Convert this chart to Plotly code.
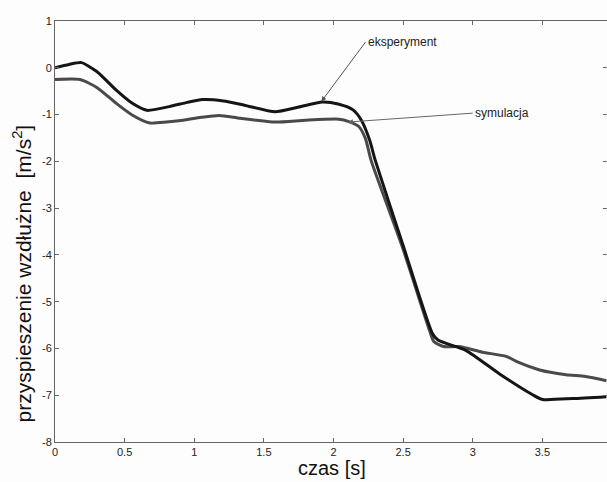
import plotly.graph_objects as go

# experiment (black) curve
t_exp = [0, 0.1, 0.19, 0.3, 0.44, 0.55, 0.66, 0.82, 0.95, 1.06, 1.21, 1.36, 1.58, 1.75,
         1.92, 2.04, 2.14, 2.2, 2.26, 2.3, 2.5, 2.71, 2.75, 2.95, 3.19, 3.43, 3.5, 3.72, 3.96]
v_exp = [0.0, 0.07, 0.11, -0.08, -0.48, -0.75, -0.91, -0.83, -0.74, -0.68, -0.71, -0.8, -0.94, -0.84,
         -0.73, -0.78, -0.9, -1.12, -1.55, -1.98, -3.8, -5.68, -5.82, -6.04, -6.54, -6.99, -7.09, -7.07, -7.03]

# simulation (gray) curve
t_sim = [0, 0.18, 0.3, 0.44, 0.56, 0.68, 0.8, 0.92, 1.05, 1.18, 1.33, 1.58, 1.8, 2.04, 2.11,
         2.18, 2.23, 2.27, 2.5, 2.69, 2.72, 2.79, 2.9, 3.07, 3.24, 3.33, 3.48, 3.67, 3.81, 3.96]
v_sim = [-0.25, -0.25, -0.42, -0.76, -1.02, -1.18, -1.16, -1.12, -1.06, -1.02, -1.08, -1.16, -1.12, -1.1, -1.15,
         -1.25, -1.52, -1.98, -3.88, -5.62, -5.85, -5.96, -5.96, -6.08, -6.17, -6.3, -6.46, -6.56, -6.6, -6.69]

x_ticks = [0, 0.5, 1, 1.5, 2, 2.5, 3, 3.5]
x_tick_labels = ["0", "0.5", "1", "1.5", "2", "2.5", "3", "3.5"]
y_ticks = [1, 0, -1, -2, -3, -4, -5, -6, -7, -8]
y_tick_labels = ["1", "0", "-1", "-2", "-3", "-4", "-5", "-6", "-7", "-8"]

FONT = "Liberation Sans, Arial, sans-serif"

fig = go.Figure()
fig.add_trace(go.Scatter(x=t_sim, y=v_sim, mode="lines",
                         line=dict(color="#4a4a4a", width=3, shape="spline", smoothing=0.6),
                         showlegend=False))
fig.add_trace(go.Scatter(x=t_exp, y=v_exp, mode="lines",
                         line=dict(color="#151515", width=3, shape="spline", smoothing=0.6),
                         showlegend=False))

axis_common = dict(showline=True, linecolor="#666", linewidth=1, mirror="ticks",
                   ticks="inside", ticklen=4, tickcolor="#666", showgrid=False, zeroline=False,
                   tickfont=dict(family=FONT, size=11, color="#222"))

fig.update_layout(
    width=607, height=482,
    margin=dict(l=55, r=0, t=21, b=40),
    paper_bgcolor="#fdfdfd", plot_bgcolor="#fdfdfd",
    xaxis=dict(range=[0, 3.964], tickvals=x_ticks, ticktext=x_tick_labels, **axis_common),
    yaxis=dict(range=[-8, 1], tickvals=y_ticks, ticktext=y_tick_labels, **axis_common),
    annotations=[
        dict(text="czas [s]", xref="paper", yref="paper", x=0.502, y=-0.062,
             xanchor="center", yanchor="middle", showarrow=False,
             font=dict(family=FONT, size=20, color="#111")),
        dict(text="przyspieszenie wzdłużne  [m/s<sup>2</sup>]", xref="paper", yref="paper",
             x=-0.06, y=0.4, textangle=-90, xanchor="center", yanchor="middle",
             showarrow=False, font=dict(family=FONT, size=21, color="#111")),
        dict(text="eksperyment", xref="x", yref="y", x=1.913, y=-0.72,
             axref="x", ayref="y", ax=2.23, ay=0.55, xanchor="left", yanchor="middle",
             showarrow=True, arrowhead=2, arrowsize=1, arrowwidth=1, arrowcolor="#555",
             font=dict(family=FONT, size=12, color="#222")),
        dict(text="symulacja", xref="x", yref="y", x=2.104, y=-1.16,
             axref="x", ayref="y", ax=3.0, ay=-0.97, xanchor="left", yanchor="middle",
             showarrow=True, arrowhead=2, arrowsize=1, arrowwidth=1, arrowcolor="#666",
             font=dict(family=FONT, size=12, color="#222")),
    ],
)

fig.write_html("out.html")
